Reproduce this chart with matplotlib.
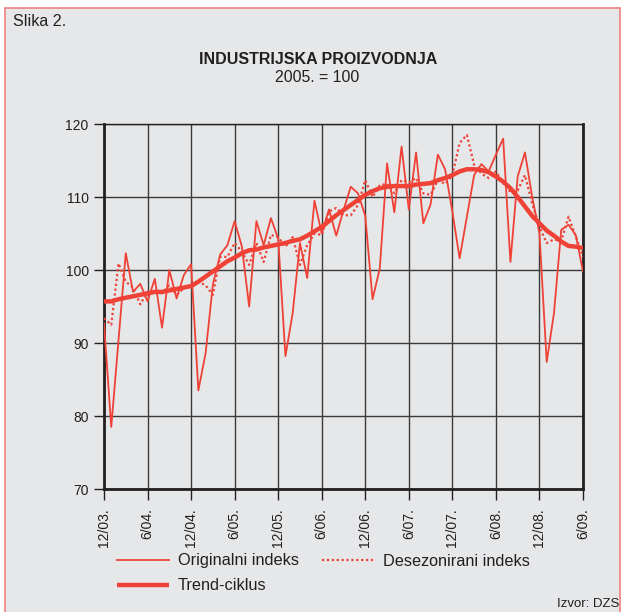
import matplotlib
matplotlib.use('Agg')
import matplotlib.pyplot as plt
from matplotlib.patches import Rectangle
import numpy as np

plt.rcParams['font.family'] = ['Liberation Sans', 'DejaVu Sans']

# Data (monthly, 12/2003 - 6/2009), 2005 = 100
originalni = [92.7, 78.5, 90.4, 102.3, 97.0, 98.1, 95.7, 98.8, 92.1, 100.0,
              96.1, 99.3, 100.8, 83.5, 88.6, 98.0, 102.1, 103.4, 106.7, 103.2,
              95.0, 106.7, 103.4, 107.1, 104.3, 88.2, 94.1, 103.7, 98.9, 109.5,
              105.0, 108.3, 104.7, 108.2, 111.4, 110.5, 107.4, 96.0, 100.2, 114.6,
              107.9, 116.9, 108.3, 116.1, 106.4, 109.0, 115.8, 113.8, 108.0, 101.6,
              107.3, 113.0, 114.5, 113.5, 115.8, 118.0, 101.1, 112.8, 116.1, 110.0,
              105.0, 87.4, 94.1, 105.5, 106.2, 104.8, 99.8]
desezonirani = [93.4, 92.5, 100.9, 98.4, 97.6, 95.3, 97.0, 97.0, 96.8, 97.9,
                96.6, 97.5, 97.9, 98.4, 97.9, 96.6, 101.8, 101.8, 103.7, 102.5,
                100.7, 103.7, 101.1, 104.8, 104.5, 103.2, 104.5, 100.7, 103.4, 105.0,
                104.8, 108.0, 108.5, 107.5, 107.5, 108.9, 112.3, 110.0, 111.6, 111.8,
                110.5, 112.3, 112.0, 112.6, 110.5, 110.3, 112.3, 111.8, 113.0, 117.4,
                118.5, 114.4, 113.2, 112.6, 113.5, 111.9, 110.7, 110.9, 113.0, 109.1,
                105.9, 103.7, 104.2, 104.0, 107.3, 104.6, 101.8]
trend = [95.7, 95.7, 96.0, 96.2, 96.4, 96.6, 96.8, 97.0, 97.0, 97.2,
         97.4, 97.6, 97.8, 98.4, 99.1, 99.8, 100.5, 101.2, 101.7, 102.3,
         102.7, 102.8, 103.1, 103.3, 103.5, 103.7, 104.0, 104.2, 104.7, 105.3,
         105.9, 106.7, 107.5, 108.2, 108.9, 109.6, 110.3, 110.8, 111.2, 111.4,
         111.5, 111.5, 111.5, 111.7, 111.8, 111.9, 112.3, 112.6, 113.0, 113.5,
         113.8, 113.8, 113.7, 113.4, 112.8, 112.1, 111.2, 110.0, 108.7, 107.4,
         106.4, 105.4, 104.7, 103.9, 103.3, 103.2, 103.0]
tick_labels = ['12/03.', '6/04.', '12/04.', '6/05.', '12/05.', '6/06.',
               '12/06.', '6/07.', '12/07.', '6/08.', '12/08.', '6/09.']

red = '#ef4136'
bg = '#e6e7e9'
txt = '#231f20'
months = np.arange(len(originalni))

fig = plt.figure(figsize=(6.21, 6.12), dpi=100)
fig.patch.set_facecolor('white')
fig.patches.append(Rectangle((5 / 621, -0.01), 615 / 621, 1.01 - 8 / 612,
                             transform=fig.transFigure, facecolor=bg,
                             edgecolor='#f08080', linewidth=1.2, zorder=-10))

ax = fig.add_axes([104 / 621, 1 - 489 / 612, 479 / 621, 365 / 612])
ax.set_facecolor(bg)

ax.plot(months, originalni, color=red, lw=1.3, zorder=3)
ax.plot(months, desezonirani, color=red, lw=1.6, ls=(0, (1, 1.2)), zorder=3)
ax.plot(months, trend, color=red, lw=3.2, zorder=4, solid_capstyle='butt')

ax.set_xlim(0, len(originalni) - 1)
ax.set_ylim(70, 120)
ax.set_xticks(months[::6])
ax.set_xticklabels(tick_labels, rotation=90, fontsize=10, color=txt)
ax.set_yticks([70, 80, 90, 100, 110, 120])
ax.tick_params(axis='y', labelsize=10, length=7, width=1, color=txt,
               labelcolor=txt, pad=4)
ax.tick_params(axis='x', length=8, width=1, color=txt, pad=6)
ax.grid(True, color='#3a3a3a', lw=1)
ax.set_axisbelow(True)
for side in ['left', 'bottom', 'right']:
    ax.spines[side].set_linewidth(2)
    ax.spines[side].set_color(txt)
ax.spines['top'].set_linewidth(1)
ax.spines['top'].set_color(txt)

fig.text(13 / 621, 1 - 22 / 612, 'Slika 2.', fontsize=11.6, color=txt,
         va='center', ha='left')
fig.text(318 / 621, 1 - 60 / 612, 'INDUSTRIJSKA PROIZVODNJA', fontsize=11.5,
         fontweight='bold', color=txt, ha='center', va='center')
fig.text(317 / 621, 1 - 77 / 612, '2005. = 100', fontsize=11.4, color=txt,
         ha='center', va='center')
fig.text(619 / 621, 1 - 604 / 612, 'Izvor: DZS', fontsize=9.5, color=txt,
         ha='right', va='center')

# legend drawn by hand
leg = fig.add_axes([0, 0, 1, 1], facecolor='none')
leg.set_xlim(0, 621)
leg.set_ylim(612, 0)
leg.axis('off')
leg.plot([117, 169], [560, 560], color=red, lw=1.3)
leg.plot([322, 374], [560, 560], color=red, lw=1.6, ls=(0, (1, 1.2)))
leg.plot([117, 169], [585, 585], color=red, lw=3.2, solid_capstyle='butt')
leg.text(178, 561, 'Originalni indeks', fontsize=11.7, color=txt, va='center')
leg.text(383, 561, 'Desezonirani indeks', fontsize=11.7, color=txt, va='center')
leg.text(178, 585, 'Trend-ciklus', fontsize=11.7, color=txt, va='center')

fig.savefig('out.png', dpi=100, facecolor=fig.get_facecolor())
